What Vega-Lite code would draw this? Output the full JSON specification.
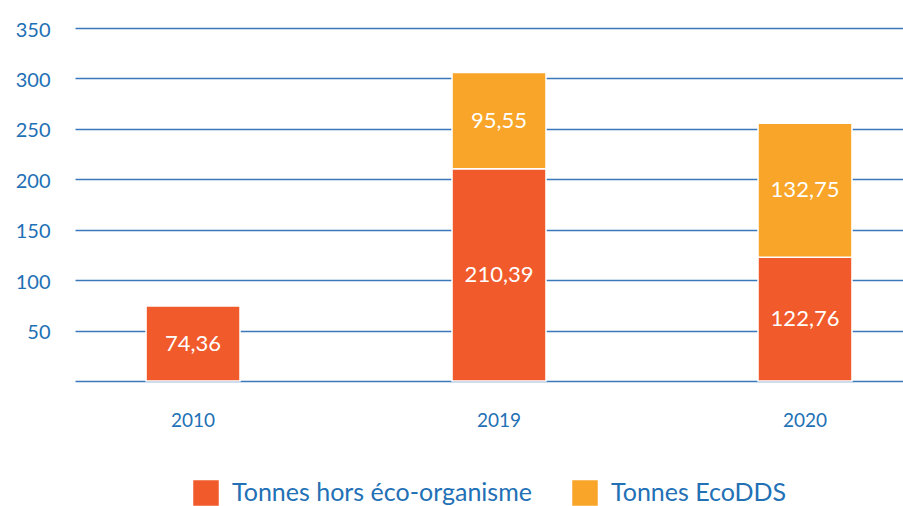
{
  "$schema": "https://vega.github.io/schema/vega-lite/v6.json",
  "width": 828,
  "height": 353,
  "autosize": {"type": "none"},
  "padding": {"left": 75, "top": 28, "right": 0, "bottom": 125},
  "config": {"font": "Lato", "view": {"stroke": null}},
  "data": {
    "values": [
      {"year": "2010", "type": "Tonnes hors éco-organisme", "order": 1, "value": 74.36, "label": "74,36"},
      {"year": "2019", "type": "Tonnes hors éco-organisme", "order": 1, "value": 210.39, "label": "210,39"},
      {"year": "2019", "type": "Tonnes EcoDDS", "order": 2, "value": 95.55, "label": "95,55"},
      {"year": "2020", "type": "Tonnes hors éco-organisme", "order": 1, "value": 122.76, "label": "122,76"},
      {"year": "2020", "type": "Tonnes EcoDDS", "order": 2, "value": 132.75, "label": "132,75"}
    ]
  },
  "transform": [
    {"stack": "value", "groupby": ["year"], "sort": [{"field": "order"}], "as": ["v0", "v1"]},
    {"calculate": "(datum.v0 + datum.v1) / 2", "as": "mid"}
  ],
  "encoding": {
    "x": {
      "field": "year",
      "type": "nominal",
      "scale": {"paddingInner": 0.693, "paddingOuter": 0.1995, "align": 0.582},
      "axis": {
        "title": null,
        "domain": false,
        "ticks": false,
        "labelAngle": 0,
        "labelPadding": 30,
        "labelFontSize": 19,
        "labelColor": "#2270b5"
      }
    }
  },
  "layer": [
    {
      "mark": {"type": "bar", "stroke": "white", "strokeWidth": 1.5},
      "encoding": {
        "y": {
          "field": "v0",
          "type": "quantitative",
          "scale": {"domain": [0, 350], "nice": false},
          "axis": {
            "title": null,
            "values": [0, 50, 100, 150, 200, 250, 300, 350],
            "labelExpr": "datum.value == 0 ? '' : datum.label",
            "domain": false,
            "ticks": false,
            "grid": true,
            "gridColor": "#3b78bb",
            "gridWidth": 1.5,
            "gridOpacity": 1,
            "labelPadding": 25,
            "labelFontSize": 20,
            "labelColor": "#2270b5",
            "labelOffset": 2
          }
        },
        "y2": {"field": "v1"},
        "color": {
          "field": "type",
          "type": "nominal",
          "scale": {
            "domain": ["Tonnes hors éco-organisme", "Tonnes EcoDDS"],
            "range": ["#f15a2b", "#f8a529"]
          },
          "legend": {
            "title": null,
            "orient": "none",
            "legendX": 118,
            "legendY": 452,
            "direction": "horizontal",
            "columns": 2,
            "columnPadding": 40,
            "symbolType": "square",
            "symbolSize": 650,
            "symbolStrokeWidth": 0,
            "symbolOpacity": 1,
            "labelFontSize": 25,
            "labelColor": "#2270b5",
            "labelOffset": 13,
            "labelLimit": 400
          }
        }
      }
    },
    {
      "mark": {"type": "text", "color": "white", "fontSize": 22, "baseline": "middle"},
      "encoding": {
        "y": {"field": "mid", "type": "quantitative"},
        "text": {"field": "label"}
      }
    }
  ]
}
